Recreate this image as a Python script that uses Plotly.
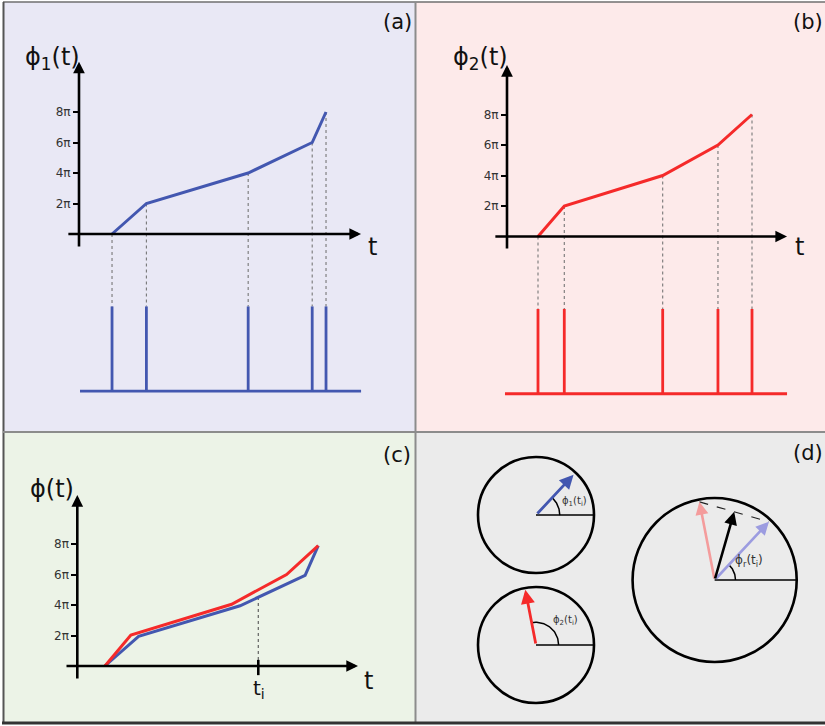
import numpy as np
import plotly.graph_objects as go

W, H = 825, 726

# ------------------------------------------------------------------ data
# panel (a)/(b): spike times (arbitrary time units) of neuron 1 and 2,
# the phase reached at each spike (units of pi)
spike_t_1 = [0.98, 2.00, 5.02, 6.92, 7.33]
spike_t_2 = [0.92, 1.70, 4.62, 6.26, 7.27]
phase_pi = [0, 2, 4, 6, 8]

# panel (c): both phase curves drawn on one axis
t_c_1 = [0.82, 1.82, 4.83, 6.76, 7.15]
phase_c_1 = [0, 1.95, 3.95, 5.95, 7.9]
t_c_2 = [0.82, 1.59, 4.58, 6.21, 7.15]
phase_c_2 = [0, 2.03, 4.05, 6.0, 7.9]
t_i = 5.37

tick_vals = [2, 4, 6, 8]
tick_text = ["2π", "4π", "6π", "8π"]

# panel (d): phases at t_i (degrees)
phi1_ti_deg = 47
phi2_ti_deg = 101

# ------------------------------------------------------------------ layout constants
SX = 33.7    # px per time unit
SY = 15.25   # px per pi
FONT = "DejaVu Sans"
BLUE = "#4357b0"
RED = "#f52a2a"
LBLUE = "#9c9ce0"
PINK = "#f49c9c"


def P(xp, yp):
    return xp / W, 1 - yp / H


fig = go.Figure()
annotations = []
shapes = []


def phase_axes(idx, origin, box):
    ox, oy = origin
    l, t, r, b = box
    xa = dict(domain=[l / W, r / W], range=[(l - ox) / SX, (r - ox) / SX],
              visible=False, fixedrange=True)
    ya = dict(domain=[1 - b / H, 1 - t / H], range=[(oy - b) / SY, (oy - t) / SY],
              anchor="free", position=ox / W, showline=False, showgrid=False,
              zeroline=False, ticks="outside", ticklen=6, tickwidth=2,
              tickcolor="black", tickvals=tick_vals, ticktext=tick_text,
              tickfont=dict(family=FONT, size=12, color="#333"), fixedrange=True)
    sfx = "" if idx == 1 else str(idx)
    fig.layout["xaxis" + sfx] = xa
    fig.layout["yaxis" + sfx] = ya
    return "x" + sfx, "y" + sfx


def arrow(xr, yr, tail, tip, color="black", width=2.6, size=0.9):
    annotations.append(dict(
        x=tip[0], y=tip[1], ax=tail[0], ay=tail[1], xref=xr, yref=yr,
        axref=xr, ayref=yr, text="", showarrow=True, arrowhead=2,
        arrowsize=size, arrowwidth=width, arrowcolor=color, standoff=0,
        startstandoff=0))


def axis_arrows(xr, yr, xext, yext):
    arrow(xr, yr, (xext[0], 0), (xext[1], 0))
    arrow(xr, yr, (0, yext[0]), (0, yext[1]))


def raster_panel(idx, origin, box, times, color, xext, yext, base_x0,
                 base, top):
    xr, yr = phase_axes(idx, origin, box)
    # dotted guides
    gx, gy = [], []
    for tt, ph in zip(times, phase_pi):
        gx += [tt, tt, None]
        gy += [ph, top, None]
    fig.add_trace(go.Scatter(x=gx, y=gy, mode="lines", xaxis=xr, yaxis=yr,
                             line=dict(color="#777", width=1.1, dash="dot"),
                             hoverinfo="skip"))
    # spikes + baseline
    sx, sy = [base_x0, xext[1], None], [base, base, None]
    for tt in times:
        sx += [tt, tt, None]
        sy += [base, top, None]
    fig.add_trace(go.Scatter(x=sx, y=sy, mode="lines", xaxis=xr, yaxis=yr,
                             line=dict(color=color, width=2.8),
                             hoverinfo="skip"))
    # phase curve
    fig.add_trace(go.Scatter(x=times, y=phase_pi, mode="lines", xaxis=xr,
                             yaxis=yr, line=dict(color=color, width=3),
                             hoverinfo="skip"))
    axis_arrows(xr, yr, xext, yext)


# ---------------- panel (a)
raster_panel(1, (79, 234), (10, 30, 410, 425), spike_t_1, BLUE,
             (-0.36, 8.37), (-0.92, 11.3), 0.03, -10.3, -4.75)
# ---------------- panel (b)
raster_panel(2, (507, 236.5), (420, 30, 820, 425), spike_t_2, RED,
             (-0.39, 8.31), (-0.89, 11.25), -0.06, -10.31, -4.75)

# ---------------- panel (c)
xr, yr = phase_axes(3, (77.3, 666), (10, 440, 410, 718))
phi_at_ti = float(np.interp(t_i, t_c_1, phase_c_1))
fig.add_trace(go.Scatter(x=[t_i, t_i], y=[0.4, phi_at_ti], mode="lines",
                         xaxis=xr, yaxis=yr,
                         line=dict(color="#555", width=1.1, dash="dot"),
                         hoverinfo="skip"))
fig.add_trace(go.Scatter(x=[t_i, t_i], y=[0.4, -0.6], mode="lines",
                         xaxis=xr, yaxis=yr,
                         line=dict(color="black", width=2.6), hoverinfo="skip"))
fig.add_trace(go.Scatter(x=t_c_1, y=phase_c_1, mode="lines", xaxis=xr,
                         yaxis=yr, line=dict(color=BLUE, width=3),
                         hoverinfo="skip"))
fig.add_trace(go.Scatter(x=t_c_2, y=phase_c_2, mode="lines", xaxis=xr,
                         yaxis=yr, line=dict(color=RED, width=3),
                         hoverinfo="skip"))
axis_arrows(xr, yr, (-0.365, 8.33), (-0.92, 11.21))

# ---------------- panel (d)
D_OX, D_OY, D_U = 536, 580, 58.0
dl, dt, dr, db = 420, 440, 820, 718
fig.layout["xaxis4"] = dict(domain=[dl / W, dr / W],
                            range=[(dl - D_OX) / D_U, (dr - D_OX) / D_U],
                            visible=False, fixedrange=True)
fig.layout["yaxis4"] = dict(domain=[1 - db / H, 1 - dt / H],
                            range=[(D_OY - db) / D_U, (D_OY - dt) / D_U],
                            visible=False, fixedrange=True)
xr, yr = "x4", "y4"

R_BIG = 1.415
circles = [  # (cx, cy, r)
    (0.0, 1.12, 1.0),
    (0.0, -1.12, 1.0),
    (3.08, 0.0, R_BIG),
]
for cx, cy, r in circles:
    shapes.append(dict(type="circle", xref=xr, yref=yr, x0=cx - r, x1=cx + r,
                       y0=cy - r, y1=cy + r, line=dict(color="black", width=2.6),
                       fillcolor="rgba(0,0,0,0)", layer="above"))
    fig.add_trace(go.Scatter(x=[cx, cx + r], y=[cy, cy], mode="lines",
                             xaxis=xr, yaxis=yr,
                             line=dict(color="black", width=1.6),
                             hoverinfo="skip"))


def arc(cx, cy, rad, deg):
    a = np.radians(np.linspace(0, deg, 40))
    fig.add_trace(go.Scatter(x=cx + rad * np.cos(a), y=cy + rad * np.sin(a),
                             mode="lines", xaxis=xr, yaxis=yr,
                             line=dict(color="black", width=1.5),
                             hoverinfo="skip"))


def vec(cx, cy, length, deg):
    a = np.radians(deg)
    return cx + length * np.cos(a), cy + length * np.sin(a)


# top small circle: phi1
c1 = circles[0]
arc(c1[0], c1[1], 0.41, phi1_ti_deg)
arrow(xr, yr, (c1[0], c1[1]), vec(c1[0], c1[1], 0.95, phi1_ti_deg), BLUE,
      2.8, 1.0)
# bottom small circle: phi2
c2 = circles[1]
arc(c2[0], c2[1], 0.39, phi2_ti_deg)
arrow(xr, yr, (c2[0], c2[1]), vec(c2[0], c2[1], 0.97, phi2_ti_deg), RED,
      2.8, 1.0)
# big circle: resultant
c3 = circles[2]
arc(c3[0], c3[1], 0.36, phi1_ti_deg)
tip1 = vec(c3[0], c3[1], 0.97 * R_BIG, phi1_ti_deg)
tip2 = vec(c3[0], c3[1], 0.97 * R_BIG, phi2_ti_deg)
tipr = ((tip1[0] + tip2[0]) / 2, (tip1[1] + tip2[1]) / 2)
fig.add_trace(go.Scatter(x=[tip2[0], tip1[0]], y=[tip2[1], tip1[1]],
                         mode="lines", xaxis=xr, yaxis=yr,
                         line=dict(color="#222", width=1.2, dash="dash"),
                         hoverinfo="skip"))
arrow(xr, yr, (c3[0], c3[1]), tip2, PINK, 2.6, 1.0)
arrow(xr, yr, (c3[0], c3[1]), tip1, LBLUE, 2.6, 1.0)
arrow(xr, yr, (c3[0], c3[1]), tipr, "black", 2.6, 1.0)

for (cx, cy, _), (dx, dy), txt, fs in [
        (c1, (0.67, 0.23), "ϕ<sub>1</sub>(t<sub>i</sub>)", 10),
        (c2, (0.5, 0.43), "ϕ<sub>2</sub>(t<sub>i</sub>)", 10),
        (c3, (0.59, 0.32), "ϕ<sub>r</sub>(t<sub>i</sub>)", 12)]:
    annotations.append(dict(x=cx + dx, y=cy + dy, xref=xr, yref=yr, text=txt,
                            showarrow=False, font=dict(family=FONT, size=fs,
                                                       color="#333")))

# ---------------- backgrounds & borders
panels = [((3.5, 2, 415.5, 432), "#e9e8f5"),
          ((415.5, 2, 825, 432), "#fdeaea"),
          ((3.5, 432, 415.5, 723), "#ecf3e7"),
          ((415.5, 432, 825, 723), "#ebebeb")]
for (l, t, r, b), col in panels:
    x0, y1 = P(l, t)
    x1, y0 = P(r, b)
    shapes.append(dict(type="rect", xref="paper", yref="paper", x0=x0, x1=x1,
                       y0=y0, y1=y1, fillcolor=col, line=dict(width=0),
                       layer="below"))


def pline(p0, p1, color, width):
    x0, y0 = P(*p0)
    x1, y1 = P(*p1)
    shapes.append(dict(type="line", xref="paper", yref="paper", x0=x0, y0=y0,
                       x1=x1, y1=y1, line=dict(color=color, width=width),
                       layer="below"))


pline((3, 2), (825, 2), "#6f6f6f", 1.5)
pline((3.5, 2), (3.5, 723), "#555", 2)
pline((415.5, 2), (415.5, 723), "#8c8c8c", 2)
pline((3, 432), (825, 432), "#8c8c8c", 2)
pline((2, 723), (825, 723), "#333", 3)

# ---------------- text labels
big = dict(family=FONT, size=24, color="#111")
lab = dict(family=FONT, size=21, color="#111")
texts = [
    ((397, 22), "(a)", lab), ((808, 22), "(b)", lab),
    ((397, 455), "(c)", lab), ((808, 453), "(d)", lab),
    ((52, 58), "ϕ<sub>1</sub>(t)", big), ((480, 58), "ϕ<sub>2</sub>(t)", big),
    ((52, 489), "ϕ(t)", big),
    ((372, 247), "t", big), ((799, 247), "t", big), ((368, 681), "t", big),
    ((259, 689), "t<sub>i</sub>", dict(family=FONT, size=20, color="#111")),
]
for (xp, yp), txt, f in texts:
    x, y = P(xp, yp)
    annotations.append(dict(x=x, y=y, xref="paper", yref="paper", text=txt,
                            showarrow=False, font=f, xanchor="center",
                            yanchor="middle"))

fig.update_layout(width=W, height=H, autosize=False,
                  margin=dict(l=0, r=0, t=0, b=0, pad=0),
                  paper_bgcolor="white", plot_bgcolor="rgba(0,0,0,0)",
                  showlegend=False, annotations=annotations, shapes=shapes)

fig.write_html("out.html", config={"displayModeBar": False})
